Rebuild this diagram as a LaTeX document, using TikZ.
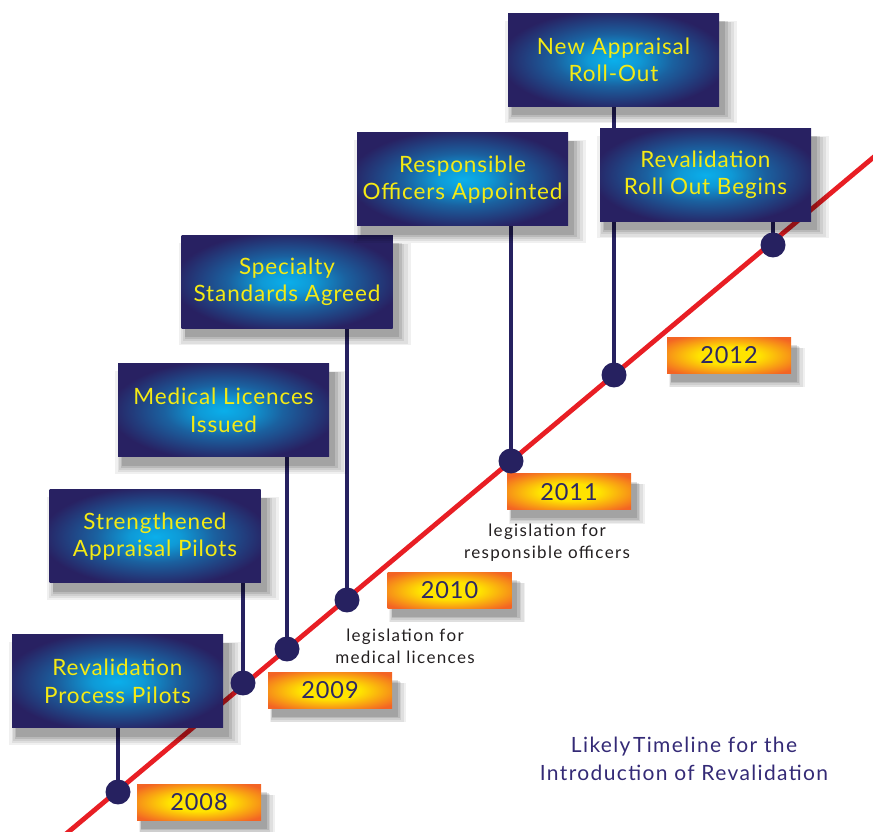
\documentclass[tikz,border=0pt]{standalone}
\usepackage{fontspec}
\setmainfont{Lato}
\newfontfamily\boxfont[LetterSpace=4]{Lato}
\newfontfamily\notefont[LetterSpace=8]{Lato}
\newfontfamily\headfont[LetterSpace=6.5]{Lato}
\usetikzlibrary{shadows,backgrounds}
\definecolor{navyc}{RGB}{40,33,98}
\definecolor{glowc}{RGB}{10,175,235}
\definecolor{yellowc}{RGB}{244,234,20}
\definecolor{orangec}{RGB}{243,100,36}
\definecolor{yearc}{RGB}{255,228,0}
\definecolor{yeartextc}{RGB}{45,40,100}
\definecolor{dotc}{RGB}{38,33,96}
\definecolor{redc}{RGB}{232,30,36}
\definecolor{notec}{RGB}{35,31,32}
\definecolor{headc}{RGB}{52,42,118}
\pgfdeclareradialshading{bluebox}{\pgfpoint{0bp}{0bp}}{color(0bp)=(glowc); color(6bp)=(glowc!85!navyc); color(14bp)=(glowc!45!navyc); color(27bp)=(navyc); color(50bp)=(navyc)}
\pgfdeclareradialshading{orangebox}{\pgfpoint{0bp}{0bp}}{color(0bp)=(yearc); color(12bp)=(yearc); color(22bp)=(yearc!50!orangec); color(32bp)=(orangec); color(50bp)=(orangec)}
\tikzset{
  softshadow/.style={
    general shadow={fill=black,opacity=.06,shadow xshift=7pt,shadow yshift=-11pt,shadow scale=1.10},
    general shadow={fill=black,opacity=.07,shadow xshift=7pt,shadow yshift=-11pt,shadow scale=1.075},
    general shadow={fill=black,opacity=.08,shadow xshift=6pt,shadow yshift=-10pt,shadow scale=1.05},
    general shadow={fill=black,opacity=.10,shadow xshift=6pt,shadow yshift=-9pt,shadow scale=1.03},
    general shadow={fill=black,opacity=.12,shadow xshift=5pt,shadow yshift=-8pt,shadow scale=1.01}},
  eventbox/.style={softshadow,fill=navyc,minimum width=211pt,minimum height=93pt,inner sep=0pt,
    path picture={\shade[shading=bluebox] (path picture bounding box.south west) rectangle (path picture bounding box.north east);},
    align=center,text=yellowc,font=\boxfont\fontsize{22.5}{27.5}\selectfont},
  yearlabel/.style={softshadow,fill=orangec,minimum width=124pt,minimum height=36pt,inner sep=0pt,
    path picture={\shade[shading=orangebox] (path picture bounding box.south west) rectangle (path picture bounding box.north east);},
    text=yeartextc,font=\boxfont\fontsize{23.5}{25}\selectfont},
  milestone/.style={circle,fill=dotc,minimum size=25pt,inner sep=0pt},
  stem/.style={dotc,line width=4pt},
  track/.style={redc,line width=4.8pt},
  legnote/.style={align=center,text=notec,font=\notefont\fontsize{17}{22}\selectfont},
  heading/.style={align=center,text=headc,font=\headfont\fontsize{21}{28}\selectfont}
}
\begin{document}
\begin{tikzpicture}[x=1pt,y=1pt]
\useasboundingbox (0,0) rectangle (873,832);
\node (RP) at (117.5,150.5) [eventbox] {Revalidation\\Process Pilots};
\node (SA) at (155,295.5) [eventbox] {Strengthened\\Appraisal Pilots};
\node (ML) at (223.5,421.5) [eventbox] {Medical Licences\\Issued};
\node (SS) at (287,550) [eventbox] {Specialty\\Standards Agreed};
\node (RO) at (462.5,652.5) [eventbox] {Responsible\\Officers Appointed};
\node (NA) at (613.5,772) [eventbox] {New Appraisal\\Roll-Out};
\node (RB) at (705.5,657) [eventbox] {Revalidation\\Roll Out Begins};
\node (Y8) at (199,29.5) [yearlabel] {2008};
\node (Y9) at (330,141.5) [yearlabel] {2009};
\node (Y10) at (449.5,241.5) [yearlabel] {2010};
\node (Y11) at (569,340) [yearlabel] {2011};
\node (Y12) at (729,476.5) [yearlabel] {2012};
\node (LM) at (405,186) [legnote] {legislation for\\medical licences};
\node (LR) at (547,289) [legnote] {legislation for\\responsible officers};
\node (T) at (684,73) [heading] {Likely\hspace{.12em}Timeline for the\\Introduction of Revalidation};
\node (D1) at (118,40) [milestone] {};
\node (D2) at (243,149) [milestone] {};
\node (D3) at (287,183) [milestone] {};
\node (D4) at (347,232) [milestone] {};
\node (D5) at (511,371) [milestone] {};
\node (D6) at (614,457) [milestone] {};
\node (D7) at (773,587) [milestone] {};
\coordinate (L0) at (60,-7);
\coordinate (L1) at (881,681);
\begin{pgfonlayer}{background}
\draw[track] (L0) -- (L1);
\draw[stem] (D1.center) -- (D1 |- RP.south);
\draw[stem] (D2.center) -- (D2 |- SA.south);
\draw[stem] (D3.center) -- (D3 |- ML.south);
\draw[stem] (D4.center) -- (D4 |- SS.south);
\draw[stem] (D5.center) -- (D5 |- RO.south);
\draw[stem] (D6.center) -- (D6 |- NA.south);
\draw[stem] (D7.center) -- (D7 |- RB.south);
\end{pgfonlayer}
\end{tikzpicture}
\end{document}
